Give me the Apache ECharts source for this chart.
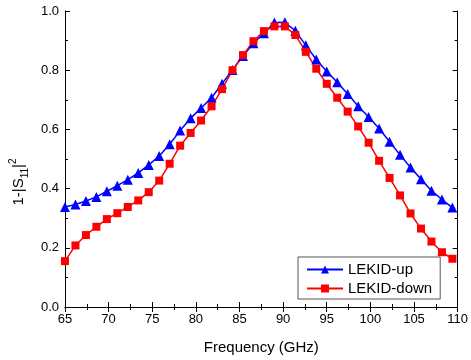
<!DOCTYPE html>
<html>
<head>
<meta charset="utf-8">
<script src="https://cdn.jsdelivr.net/npm/echarts@6/dist/echarts.min.js"></script>
<style>html,body{margin:0;padding:0;background:#fff;}#c{width:471px;height:360px;}</style>
</head>
<body>
<div id="c"></div>
<script>
var freq = [65.0,66.2,67.4,68.6,69.8,71.0,72.2,73.4,74.6,75.8,77.0,78.2,79.4,80.6,81.8,83.0,84.2,85.4,86.6,87.8,89.0,90.2,91.4,92.6,93.8,95.0,96.2,97.4,98.6,99.8,101.0,102.2,103.4,104.6,105.8,107.0,108.2,109.4];
var lekidUp = [0.338,0.346,0.358,0.372,0.391,0.410,0.430,0.453,0.480,0.510,0.550,0.596,0.638,0.672,0.707,0.754,0.801,0.848,0.891,0.925,0.961,0.962,0.933,0.884,0.836,0.796,0.759,0.720,0.678,0.642,0.603,0.558,0.514,0.471,0.432,0.393,0.363,0.336];
var lekidDown = [0.155,0.208,0.243,0.271,0.297,0.317,0.338,0.360,0.388,0.427,0.484,0.545,0.588,0.630,0.678,0.736,0.800,0.851,0.898,0.932,0.948,0.948,0.919,0.862,0.805,0.754,0.707,0.660,0.610,0.555,0.494,0.436,0.377,0.316,0.265,0.221,0.185,0.163];
var seriesNames = ['LEKID-up','LEKID-down'];

function pairs(xs, ys){ return xs.map(function(x,i){ return [x, ys[i]]; }); }

var font = 'Liberation Sans, Arial, sans-serif';
var axLine = {show:true, lineStyle:{color:'#000', width:1}};
var chart = echarts.init(document.getElementById('c'), null, {renderer:'canvas'});
chart.setOption({
  animation:false,
  backgroundColor:'#fff',
  grid:{left:60, top:11, right:9, bottom:49},
  legend:{
    orient:'vertical', left:298, top:257, width:140,
    data:seriesNames,
    itemWidth:36, itemHeight:10, itemGap:4,
    padding:[5,8,3,8],
    borderColor:'#555', borderWidth:1, borderRadius:0,
    textStyle:{fontFamily:font, fontSize:15, color:'#000'}
  },
  xAxis:[{
    type:'value', min:65, max:110, interval:5,
    name:'Frequency (GHz)', nameLocation:'middle', nameGap:33,
    nameTextStyle:{fontFamily:font, fontSize:15, color:'#000'},
    axisLine:axLine,
    axisTick:{show:true, inside:true, length:5, lineStyle:{color:'#000'}},
    minorTick:{show:true, splitNumber:2, length:3, lineStyle:{color:'#000'}},
    axisLabel:{fontFamily:font, fontSize:13, color:'#000', margin:6, showMaxLabel:true},
    splitLine:{show:false}
  },{
    type:'value', min:65, max:110, interval:5, position:'top',
    axisLine:axLine,
    axisTick:{show:true, inside:true, length:5, lineStyle:{color:'#000'}},
    minorTick:{show:true, splitNumber:2, length:3, lineStyle:{color:'#000'}},
    axisLabel:{show:false}, splitLine:{show:false}
  }],
  yAxis:[{
    type:'value', min:0, max:1, interval:0.2,
    name:'{n|1-|S}{sub|11}{n||}{sup|2}', nameLocation:'middle', nameGap:30,
    nameTextStyle:{fontFamily:font, fontSize:15, color:'#000', padding:[0,46,0,0],
      rich:{
        n:{fontFamily:font, fontSize:15, color:'#000', lineHeight:22},
        sub:{fontFamily:font, fontSize:10, color:'#000', lineHeight:22, verticalAlign:'bottom'},
        sup:{fontFamily:font, fontSize:10, color:'#000', lineHeight:22, verticalAlign:'top'}
      }},
    axisLine:axLine,
    axisTick:{show:true, inside:true, length:5, lineStyle:{color:'#000'}},
    minorTick:{show:true, splitNumber:2, length:3, lineStyle:{color:'#000'}},
    axisLabel:{fontFamily:font, fontSize:13, color:'#000', margin:6,
      formatter:function(v){ return v.toFixed(1); }},
    splitLine:{show:false}
  },{
    type:'value', min:0, max:1, interval:0.2, position:'right',
    axisLine:axLine,
    axisTick:{show:true, inside:true, length:5, lineStyle:{color:'#000'}},
    minorTick:{show:true, splitNumber:2, length:3, lineStyle:{color:'#000'}},
    axisLabel:{show:false}, splitLine:{show:false}
  }],
  series:[{
    name:seriesNames[0], type:'line', data:pairs(freq, lekidUp),
    symbol:'triangle', symbolSize:10, showAllSymbol:true,
    lineStyle:{color:'#0000ff', width:1.5},
    itemStyle:{color:'#0000ff'}
  },{
    name:seriesNames[1], type:'line', data:pairs(freq, lekidDown),
    symbol:'rect', symbolSize:8, showAllSymbol:true,
    lineStyle:{color:'#ff0000', width:1.5},
    itemStyle:{color:'#ff0000'}
  }]
});
</script>
</body>
</html>
